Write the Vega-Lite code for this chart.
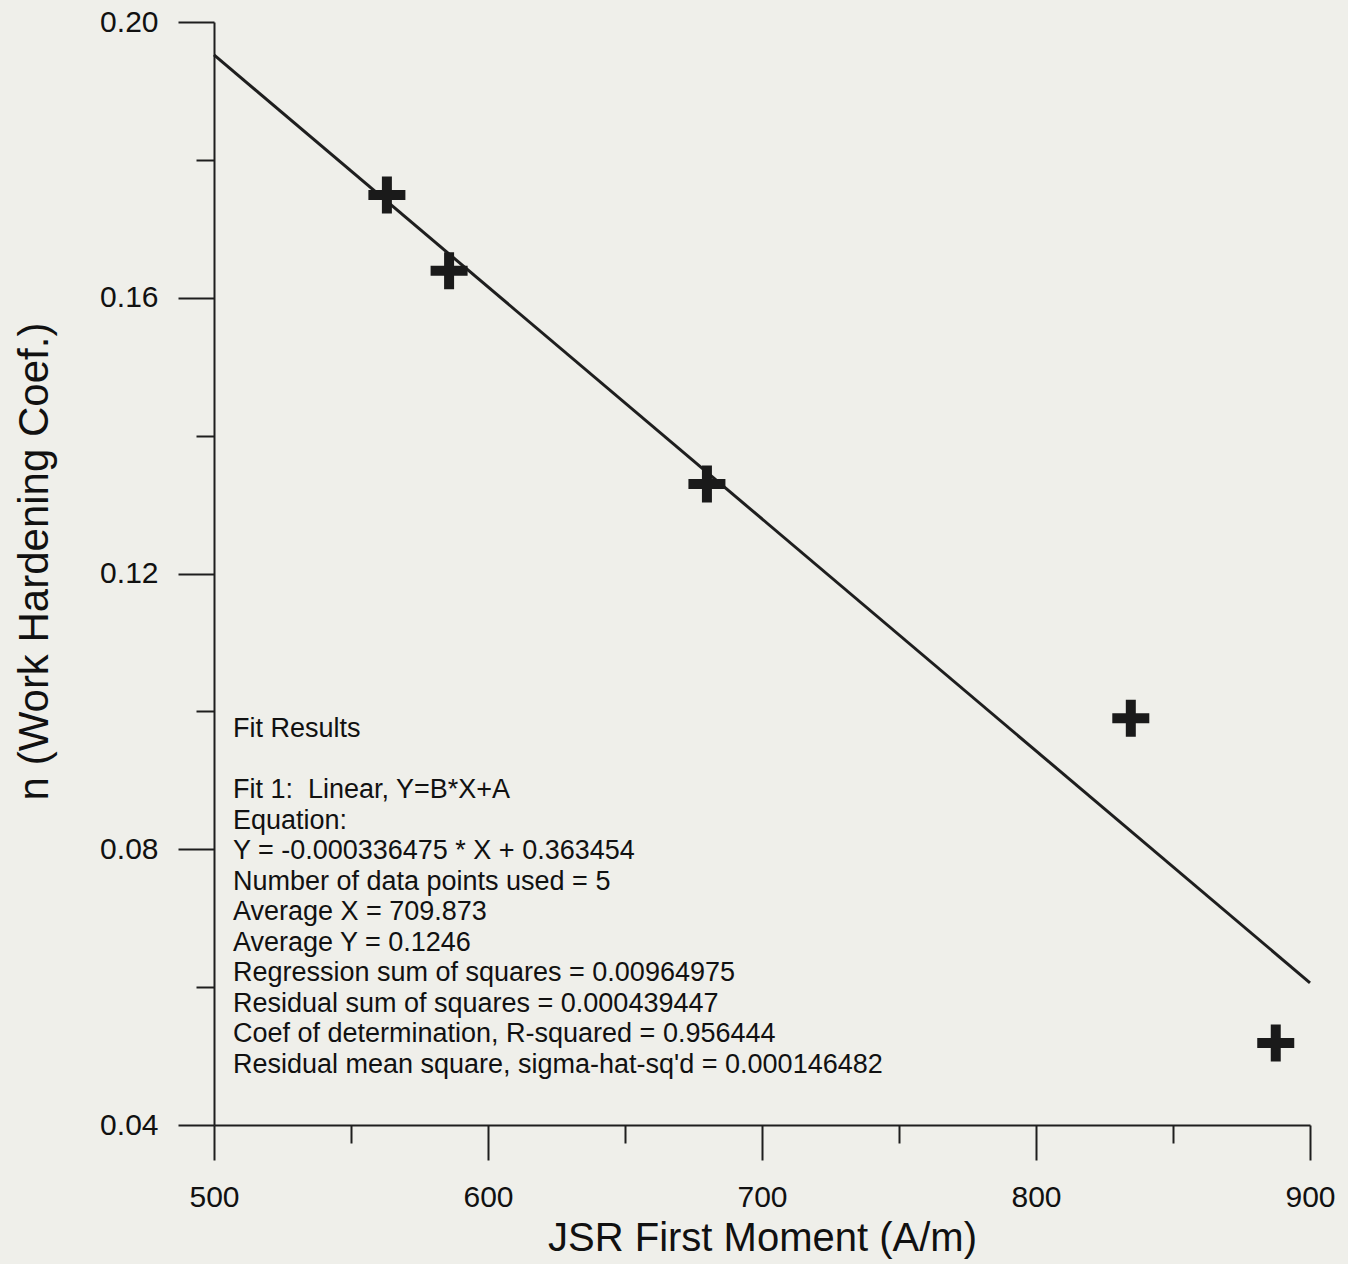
{
  "$schema": "https://vega.github.io/schema/vega-lite/v6.json",
  "width": 1096,
  "height": 1103,
  "autosize": "none",
  "padding": {"left": 214, "top": 22, "right": 38, "bottom": 139},
  "background": "#efefea",
  "config": {
    "view": {"stroke": null},
    "font": "Liberation Sans",
    "axis": {
      "grid": false,
      "domainColor": "#1e1e1e",
      "tickColor": "#1e1e1e",
      "labelColor": "#111111",
      "titleColor": "#111111",
      "labelFont": "Liberation Sans",
      "titleFont": "Liberation Sans",
      "titleFontWeight": "normal",
      "domainWidth": 2,
      "tickWidth": 2,
      "labelFlush": false,
      "labelOverlap": false
    }
  },
  "datasets": {
    "points": [
      {"moment": 563.1, "n": 0.1749},
      {"moment": 585.8, "n": 0.1639},
      {"moment": 679.9, "n": 0.1330},
      {"moment": 834.6, "n": 0.0990},
      {"moment": 887.5, "n": 0.0519}
    ],
    "fit": [
      {"moment": 500, "n": 0.195217},
      {"moment": 900, "n": 0.060627}
    ],
    "notes": [
      {
        "head": "Fit Results",
        "body": "Fit 1:\u00a0 Linear, Y=B*X+A\nEquation:\nY = -0.000336475 * X + 0.363454\nNumber of data points used = 5\nAverage X = 709.873\nAverage Y = 0.1246\nRegression sum of squares = 0.00964975\nResidual sum of squares = 0.000439447\nCoef of determination, R-squared = 0.956444\nResidual mean square, sigma-hat-sq'd = 0.000146482"
      }
    ]
  },
  "layer": [
    {
      "data": {"name": "fit"},
      "mark": {"type": "line", "color": "#1e1e1e", "strokeWidth": 3},
      "encoding": {
        "x": {
          "field": "moment", "type": "quantitative",
          "scale": {"domain": [500, 900], "nice": false, "zero": false},
          "axis": {
            "orient": "bottom",
            "values": [500, 600, 700, 800, 900],
            "format": "d",
            "tickSize": 35,
            "labelPadding": 22,
            "labelFontSize": 30,
            "title": "JSR First Moment (A/m)",
            "titleFontSize": 40,
            "titlePadding": 6
          }
        },
        "y": {
          "field": "n", "type": "quantitative",
          "scale": {"domain": [0.04, 0.2], "nice": false, "zero": false},
          "axis": {
            "orient": "left",
            "values": [0.04, 0.08, 0.12, 0.16, 0.2],
            "format": ".2f",
            "tickSize": 36,
            "labelPadding": 20,
            "labelFontSize": 30,
            "title": "n (Work Hardening Coef.)",
            "titleFontSize": 42,
            "titlePadding": 43,
            "titleY": 539
          }
        }
      }
    },
    {
      "data": {"name": "points"},
      "mark": {
        "type": "point",
        "shape": "M-0.27,-1 L0.27,-1 L0.27,-0.27 L1,-0.27 L1,0.27 L0.27,0.27 L0.27,1 L-0.27,1 L-0.27,0.27 L-1,0.27 L-1,-0.27 L-0.27,-0.27 Z",
        "filled": true,
        "size": 1369,
        "color": "#1a1a1a",
        "opacity": 1
      },
      "encoding": {
        "x": {
          "field": "moment", "type": "quantitative",
          "scale": {"domain": [500, 900], "nice": false, "zero": false},
          "axis": {
            "orient": "bottom",
            "values": [550, 650, 750, 850],
            "tickSize": 18,
            "labels": false,
            "domain": false,
            "title": null
          }
        },
        "y": {
          "field": "n", "type": "quantitative",
          "scale": {"domain": [0.04, 0.2], "nice": false, "zero": false},
          "axis": {
            "orient": "left",
            "values": [0.06, 0.1, 0.14, 0.18],
            "tickSize": 18,
            "labels": false,
            "domain": false,
            "title": null
          }
        }
      }
    },
    {
      "data": {"name": "notes"},
      "mark": {"type": "text", "align": "left", "baseline": "top", "fontSize": 27, "color": "#111111", "font": "Liberation Sans"},
      "encoding": {
        "x": {"datum": 506.9, "type": "quantitative", "axis": null},
        "y": {"datum": 0.09935, "type": "quantitative", "axis": null},
        "text": {"field": "head"}
      }
    },
    {
      "data": {"name": "notes"},
      "mark": {"type": "text", "align": "left", "baseline": "top", "fontSize": 27, "lineHeight": 30.5, "lineBreak": "\n", "color": "#111111", "font": "Liberation Sans"},
      "encoding": {
        "x": {"datum": 506.9, "type": "quantitative", "axis": null},
        "y": {"datum": 0.09048, "type": "quantitative", "axis": null},
        "text": {"field": "body"}
      }
    }
  ],
  "resolve": {"axis": {"x": "independent", "y": "independent"}}
}
